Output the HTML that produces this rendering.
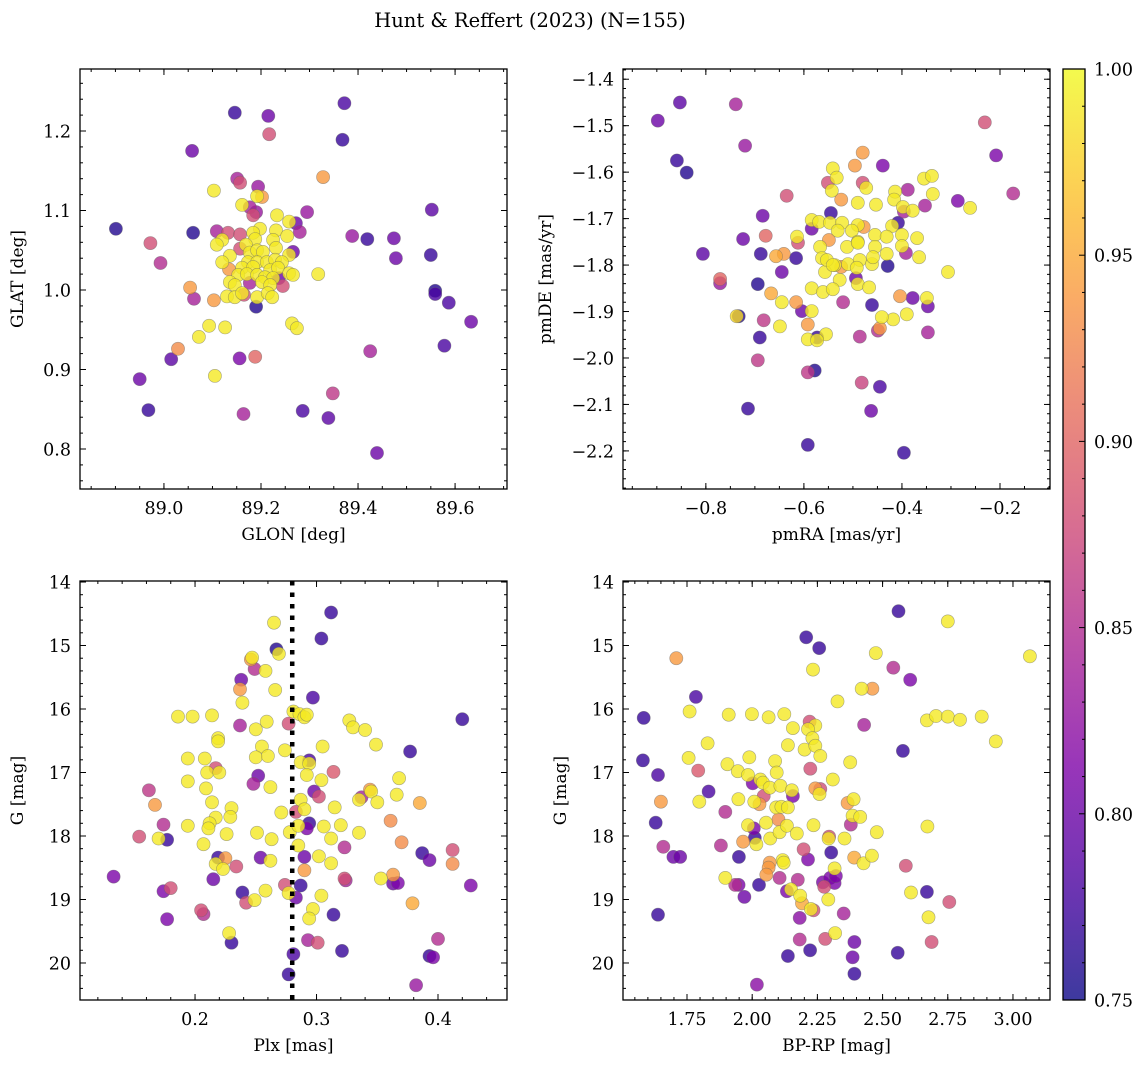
<!DOCTYPE html>
<html><head><meta charset="utf-8"><style>
body{margin:0;background:#fff;}
svg{display:block;font-family:"DejaVu Serif","Liberation Serif",serif;}
</style></head><body>
<svg id="fig" width="1148" height="1068" viewBox="0 0 1148 1068" xmlns="http://www.w3.org/2000/svg">
<rect width="1148" height="1068" fill="#fff"/>
<text x="530" y="27" font-size="19.5" text-anchor="middle">Hunt &amp; Reffert (2023) (N=155)</text>
</svg>
<script>
// ---- Panel 1: GLON / GLAT ----
const p1Lon=[88.901,89.058,89.060,89.146,89.215,89.217,89.372,89.368,89.388,89.419,89.474,89.478,89.552,89.550,89.559,89.559,89.587,89.633,89.578,89.425,89.348,89.286,89.339,89.439,89.164,88.968,88.950,89.015,89.029,89.156,89.188,89.105,88.972,88.993,
89.103,89.151,89.157,89.194,89.328,89.192,89.202,89.161,89.177,89.190,89.184,89.233,89.258,89.272,89.295,89.280,89.109,89.132,89.198,89.231,89.254,89.120,89.109,89.157,89.184,89.188,89.225,89.169,89.157,89.231,89.266,89.258,89.136,89.120,89.177,89.192,89.204,89.173,89.192,89.212,89.229,89.243,89.134,89.161,89.184,89.219,89.235,89.258,89.266,89.318,89.153,89.171,89.192,89.208,89.225,89.237,89.136,89.146,89.177,89.202,89.219,89.245,89.130,89.146,89.161,89.165,89.192,89.214,89.223,89.190,89.103,89.054,89.062,89.093,89.126,89.264,89.274,89.072];
const p1Lat=[1.077,1.175,1.072,1.223,1.219,1.196,1.235,1.189,1.068,1.064,1.065,1.040,1.101,1.044,0.999,0.995,0.984,0.960,0.930,0.923,0.870,0.848,0.839,0.795,0.844,0.849,0.888,0.913,0.926,0.914,0.916,0.892,1.059,1.034,
1.125,1.140,1.135,1.130,1.142,1.118,1.117,1.107,1.104,1.098,1.094,1.094,1.086,1.084,1.098,1.073,1.074,1.072,1.077,1.075,1.068,1.063,1.057,1.070,1.072,1.064,1.063,1.057,1.052,1.053,1.048,1.044,1.043,1.035,1.047,1.050,1.048,1.035,1.035,1.035,1.038,1.035,1.026,1.028,1.029,1.025,1.028,1.021,1.019,1.020,1.019,1.020,1.019,1.016,1.015,1.015,1.010,1.006,1.009,1.010,1.006,1.005,0.992,0.991,0.996,0.994,0.991,0.996,0.991,0.979,0.987,1.003,0.989,0.955,0.953,0.958,0.952,0.941];
const p1Prob=[0.76,0.80,0.76,0.77,0.80,0.88,0.78,0.77,0.83,0.77,0.80,0.80,0.79,0.77,0.76,0.78,0.78,0.80,0.78,0.84,0.86,0.78,0.79,0.80,0.84,0.77,0.80,0.79,0.93,0.81,0.90,0.99,0.88,0.85,
0.99,0.84,0.88,0.83,0.94,0.99,0.94,0.99,0.84,0.83,0.88,0.99,0.99,0.80,0.83,0.84,0.84,0.88,0.99,0.99,0.99,0.99,0.99,0.88,0.99,0.99,0.99,0.99,0.88,0.99,0.80,0.99,0.99,0.99,0.99,0.99,0.99,0.99,0.99,0.99,0.99,0.99,0.94,0.99,0.99,0.99,0.99,0.99,0.99,0.99,0.99,0.99,0.99,0.99,0.99,0.80,0.99,0.99,0.84,0.99,0.99,0.88,0.99,0.99,0.99,0.88,0.99,0.99,0.99,0.76,0.94,0.94,0.84,0.99,0.99,0.99,0.99,0.99];

// ---- Panel 2: pmRA / pmDE ----
const p2Ra=[-0.898,-0.853,-0.859,-0.839,-0.739,-0.720,-0.806,-0.771,-0.771,-0.737,-0.733,-0.684,-0.678,-0.724,-0.688,-0.657,-0.667,-0.694,-0.682,-0.690,-0.649,-0.694,-0.714,-0.592,-0.578,-0.592,-0.482,-0.463,-0.445,-0.396,-0.231,-0.208,-0.173,
-0.480,-0.496,-0.439,-0.541,-0.533,-0.551,-0.480,-0.473,-0.543,-0.635,-0.524,-0.490,-0.453,-0.414,-0.388,-0.355,-0.339,-0.337,-0.416,-0.398,-0.396,-0.378,-0.353,-0.286,-0.261,-0.545,-0.584,-0.584,-0.569,-0.547,-0.522,-0.490,-0.478,-0.531,-0.502,-0.455,-0.420,-0.408,-0.431,-0.400,-0.369,-0.614,-0.612,-0.549,-0.567,-0.512,-0.490,-0.490,-0.455,-0.431,-0.400,-0.392,-0.365,-0.641,-0.616,-0.563,-0.537,-0.557,-0.553,-0.541,-0.510,-0.486,-0.461,-0.459,-0.524,-0.492,-0.429,-0.527,-0.494,-0.490,-0.467,-0.584,-0.561,-0.541,-0.306,-0.520,-0.461,-0.404,-0.378,-0.349,-0.347,-0.616,-0.604,-0.645,-0.584,-0.390,-0.418,-0.441,-0.592,-0.645,-0.445,-0.449,-0.486,-0.347,-0.573,-0.555,-0.592,-0.573];
const p2De=[-1.489,-1.450,-1.575,-1.601,-1.454,-1.543,-1.776,-1.830,-1.839,-1.910,-1.910,-1.694,-1.737,-1.744,-1.776,-1.781,-1.861,-1.841,-1.919,-1.956,-1.932,-2.005,-2.109,-2.031,-2.027,-2.187,-2.053,-2.114,-2.062,-2.204,-1.493,-1.564,-1.646,
-1.558,-1.586,-1.586,-1.592,-1.612,-1.623,-1.623,-1.634,-1.640,-1.651,-1.659,-1.666,-1.670,-1.642,-1.638,-1.614,-1.608,-1.647,-1.659,-1.675,-1.685,-1.683,-1.672,-1.662,-1.677,-1.688,-1.703,-1.722,-1.707,-1.709,-1.709,-1.714,-1.718,-1.726,-1.726,-1.735,-1.716,-1.709,-1.739,-1.735,-1.742,-1.739,-1.752,-1.746,-1.761,-1.761,-1.750,-1.752,-1.761,-1.776,-1.759,-1.774,-1.783,-1.776,-1.785,-1.785,-1.800,-1.815,-1.789,-1.800,-1.798,-1.789,-1.798,-1.783,-1.804,-1.806,-1.802,-1.832,-1.828,-1.841,-1.848,-1.850,-1.858,-1.852,-1.815,-1.880,-1.886,-1.867,-1.871,-1.871,-1.889,-1.880,-1.899,-1.815,-1.899,-1.906,-1.917,-1.912,-1.928,-1.880,-1.936,-1.941,-1.954,-1.945,-1.956,-1.949,-1.960,-1.962];
const p2Prob=[0.80,0.79,0.77,0.76,0.84,0.83,0.79,0.90,0.83,0.98,0.76,0.80,0.90,0.80,0.77,0.95,0.95,0.76,0.86,0.77,0.99,0.86,0.77,0.86,0.76,0.77,0.87,0.80,0.78,0.77,0.88,0.81,0.85,
0.94,0.94,0.81,0.99,0.99,0.88,0.88,0.99,0.99,0.88,0.94,0.99,0.99,0.99,0.84,0.99,0.99,0.99,0.99,0.99,0.84,0.99,0.84,0.81,0.99,0.77,0.99,0.80,0.99,0.99,0.99,0.99,0.94,0.99,0.99,0.99,0.99,0.77,0.99,0.99,0.99,0.99,0.88,0.94,0.99,0.99,0.99,0.99,0.99,0.99,0.99,0.84,0.99,0.94,0.77,0.99,0.99,0.99,0.99,0.99,0.99,0.99,0.99,0.99,0.94,0.99,0.76,0.99,0.80,0.99,0.99,0.99,0.99,0.99,0.99,0.85,0.77,0.94,0.80,0.99,0.80,0.94,0.80,0.80,0.99,0.99,0.99,0.99,0.94,0.99,0.94,0.85,0.85,0.84,0.77,0.99,0.99,0.99];

// ---- Panel 3: Plx / G ----
const p3Plx=[0.312,0.304,0.265,0.267,0.269,0.246,0.247,0.249,0.258,0.238,0.237,0.239,0.266,0.297,0.186,0.198,0.214,0.237,0.250,0.259,0.277,0.281,0.286,0.290,0.292,0.327,0.330,0.340,0.349,0.420,0.377,0.219,0.219,0.255,0.250,0.260,0.274,0.305,0.194,0.208,0.217,0.210,0.220,0.294,0.287,0.294,0.292,0.252,0.248,0.262,0.304,0.314,0.194,0.209,0.162,0.167,0.214,0.298,0.302,0.287,0.290,0.283,0.271,0.230,0.229,0.217,0.212,0.211,0.194,0.174,0.154,0.170,0.177,0.207,0.226,0.251,0.263,0.278,0.285,0.294,0.292,0.306,0.315,0.312,0.320,0.335,0.344,0.345,0.337,0.335,0.350,0.366,0.368,0.385,0.361,0.370,0.323,0.285,0.290,0.302,0.312,0.290,0.254,0.262,0.219,0.225,0.217,0.223,0.234,0.133,0.215,0.323,0.324,0.353,0.363,0.363,0.367,0.387,0.393,0.412,0.412,0.427,0.379,0.174,0.180,0.239,0.242,0.249,0.258,0.274,0.277,0.283,0.287,0.304,0.297,0.294,0.314,0.205,0.207,0.177,0.228,0.230,0.293,0.301,0.281,0.277,0.321,0.400,0.393,0.396,0.382];
const p3G=[14.48,14.89,14.64,15.06,15.13,15.22,15.19,15.37,15.40,15.54,15.69,15.90,15.70,15.82,16.12,16.12,16.10,16.26,16.32,16.20,16.23,16.04,16.08,16.13,16.09,16.18,16.29,16.33,16.56,16.16,16.67,16.46,16.51,16.59,16.76,16.74,16.65,16.59,16.78,16.78,16.93,17.00,17.00,16.81,16.84,16.86,17.04,17.05,17.18,17.23,17.12,16.99,17.14,17.25,17.28,17.51,17.47,17.30,17.38,17.43,17.58,17.62,17.63,17.56,17.70,17.71,17.80,17.88,17.84,17.82,18.01,18.04,18.06,18.13,17.97,17.95,18.05,17.94,17.84,17.80,17.88,17.85,17.55,18.04,17.83,17.95,17.27,17.30,17.39,17.43,17.47,17.35,17.09,17.48,17.76,18.10,18.18,18.15,18.33,18.32,18.43,18.54,18.34,18.39,18.34,18.35,18.44,18.52,18.48,18.64,18.68,18.67,18.70,18.67,18.61,18.75,18.74,18.27,18.38,18.22,18.44,18.78,19.06,18.87,18.82,18.89,19.05,19.01,18.86,18.77,18.90,18.97,18.78,18.94,19.15,19.30,19.24,19.17,19.23,19.31,19.53,19.68,19.64,19.68,19.86,20.18,19.81,19.62,19.89,19.91,20.35];
const p3Prob=[0.77,0.77,0.99,0.76,0.99,0.94,0.99,0.85,0.99,0.80,0.94,0.99,0.99,0.78,0.99,0.99,0.99,0.84,0.99,0.99,0.88,0.99,0.99,0.99,0.99,0.99,0.99,0.99,0.99,0.77,0.77,0.99,0.99,0.99,0.99,0.99,0.99,0.99,0.99,0.99,0.88,0.99,0.99,0.78,0.99,0.99,0.99,0.80,0.84,0.99,0.99,0.89,0.99,0.99,0.86,0.94,0.99,0.80,0.88,0.99,0.99,0.88,0.99,0.99,0.99,0.99,0.99,0.99,0.99,0.85,0.88,0.99,0.77,0.99,0.99,0.99,0.99,0.99,0.99,0.77,0.81,0.99,0.99,0.99,0.99,0.99,0.94,0.99,0.84,0.99,0.99,0.99,0.99,0.95,0.93,0.93,0.85,0.99,0.80,0.99,0.99,0.94,0.80,0.99,0.77,0.94,0.99,0.99,0.88,0.81,0.80,0.88,0.84,0.99,0.94,0.80,0.81,0.77,0.80,0.88,0.93,0.81,0.95,0.81,0.88,0.77,0.88,0.99,0.99,0.88,0.99,0.80,0.77,0.99,0.99,0.99,0.77,0.88,0.85,0.81,0.99,0.77,0.84,0.88,0.78,0.77,0.77,0.85,0.77,0.81,0.83];

// ---- Panel 4: BP-RP / G ----
const p4Col=[2.561,2.750,2.207,2.257,1.709,2.474,3.065,2.541,2.606,2.233,2.420,2.461,2.327,1.784,1.584,1.760,1.910,1.999,2.063,2.123,2.156,2.220,2.242,2.214,2.231,2.429,2.670,2.705,2.750,2.797,2.880,2.934,2.578,1.829,1.581,1.756,1.639,1.793,1.650,1.797,1.630,1.659,1.698,1.724,1.833,1.897,1.905,1.945,1.989,1.984,2.002,2.031,2.041,2.067,2.108,2.088,2.094,2.137,2.201,2.242,2.261,2.223,2.309,2.376,1.947,2.008,2.044,2.028,2.152,2.156,2.092,2.112,2.137,2.101,2.242,2.261,2.258,2.366,2.389,2.385,2.414,2.378,2.478,2.672,1.984,2.006,2.010,2.016,1.965,2.053,2.069,2.105,2.133,2.171,2.235,2.295,2.293,2.354,1.880,1.949,1.897,1.935,1.948,1.970,2.026,2.067,2.063,2.054,2.117,2.121,2.105,2.133,2.149,2.175,2.197,2.214,2.184,2.191,2.225,2.235,2.182,2.271,2.276,2.299,2.316,2.321,2.316,2.292,2.303,2.391,2.427,2.459,2.351,2.318,2.182,2.280,2.392,2.222,2.137,2.385,2.392,2.018,2.558,1.639,2.589,2.609,2.670,2.676,2.756,2.688];
const p4G=[14.46,14.62,14.87,15.04,15.20,15.12,15.17,15.35,15.54,15.38,15.68,15.68,15.88,15.81,16.14,16.04,16.09,16.08,16.13,16.08,16.30,16.20,16.26,16.32,16.46,16.25,16.18,16.11,16.12,16.17,16.12,16.51,16.66,16.54,16.81,16.77,17.04,16.97,17.46,17.46,17.79,18.17,18.33,18.33,17.30,17.62,16.87,16.98,16.76,17.04,17.17,17.11,17.16,17.24,17.21,16.82,17.00,16.57,16.64,16.58,16.74,16.94,17.11,16.84,17.42,17.46,17.37,17.50,17.28,17.37,17.55,17.54,17.55,17.74,17.25,17.26,17.34,17.48,17.42,17.68,17.70,17.82,17.94,17.85,17.83,17.88,18.03,18.13,18.09,17.79,18.04,17.94,17.84,17.96,17.83,18.01,18.04,18.04,18.15,18.33,18.66,18.77,18.77,18.96,18.77,18.42,18.50,18.61,18.38,18.42,18.66,18.87,18.84,18.69,18.21,18.37,18.94,19.06,19.15,19.17,19.29,18.73,18.80,18.66,18.74,18.63,18.51,19.00,18.26,18.34,18.43,18.31,19.22,19.53,19.63,19.62,19.67,19.80,19.89,19.91,20.17,20.34,19.84,19.24,18.47,18.89,18.88,19.28,19.04,19.67];
const p4Prob=[0.77,0.99,0.77,0.77,0.94,0.99,0.99,0.85,0.81,0.99,0.99,0.94,0.99,0.78,0.77,0.99,0.99,0.99,0.99,0.99,0.99,0.88,0.99,0.99,0.99,0.84,0.99,0.99,0.99,0.99,0.99,0.99,0.77,0.99,0.77,0.99,0.78,0.89,0.94,0.99,0.77,0.85,0.80,0.80,0.78,0.85,0.99,0.99,0.99,0.99,0.81,0.99,0.99,0.99,0.99,0.99,0.99,0.99,0.99,0.99,0.99,0.88,0.99,0.99,0.99,0.99,0.88,0.94,0.99,0.81,0.99,0.99,0.99,0.93,0.94,0.88,0.99,0.94,0.99,0.99,0.99,0.85,0.99,0.99,0.99,0.81,0.77,0.99,0.94,0.99,0.99,0.99,0.99,0.99,0.99,0.88,0.99,0.99,0.85,0.77,0.99,0.85,0.81,0.80,0.77,0.94,0.94,0.94,0.99,0.99,0.85,0.81,0.99,0.85,0.88,0.81,0.99,0.95,0.99,0.88,0.82,0.81,0.88,0.81,0.81,0.81,0.99,0.99,0.77,0.95,0.99,0.99,0.84,0.99,0.85,0.88,0.80,0.77,0.77,0.80,0.77,0.82,0.77,0.77,0.88,0.99,0.77,0.99,0.88,0.88];

const plxCut=[0.28];
const cbTicks=[0.75,0.80,0.85,0.90,0.95,1.00];

const NS='http://www.w3.org/2000/svg';
const svg=document.getElementById('fig');
function el(tag,attrs,parent){const e=document.createElementNS(NS,tag);for(const k in attrs)e.setAttribute(k,attrs[k]);(parent||svg).appendChild(e);return e;}

const stops=[[0,[13,8,135]],[0.125,[76,2,161]],[0.25,[126,3,168]],[0.375,[169,35,149]],[0.5,[204,71,120]],[0.625,[229,107,93]],[0.75,[248,149,64]],[0.875,[253,197,39]],[1,[240,249,33]]];
function plasma(t){t=Math.max(0,Math.min(1,t));for(let i=1;i<stops.length;i++){if(t<=stops[i][0]){const a=stops[i-1],b=stops[i];const f=(t-a[0])/(b[0]-a[0]);const c=a[1].map((v,j)=>Math.round(v+(b[1][j]-v)*f));return 'rgb('+c.join(',')+')';}}return 'rgb(240,249,33)';}
const cmin=0.75,cmax=1.0;

function fmt(v,d){let s=v.toFixed(d);if(v<0)s='\u2212'+s.slice(1);return s;}

function panel(cfg){
  const g=el('g',{});
  
  
  const sx=v=>cfg.l+(v-cfg.xlim[0])/(cfg.xlim[1]-cfg.xlim[0])*(cfg.r-cfg.l);
  const sy=v=>cfg.b-(v-cfg.ylim[0])/(cfg.ylim[1]-cfg.ylim[0])*(cfg.b-cfg.t);
  const idx=cfg.xs.map((_,i)=>i).sort((a,b)=>cfg.ps[a]-cfg.ps[b]);
  const pg=el('g',{},g);
  
  
  idx.forEach(i=>{
    const c=el('circle',{cx:sx(cfg.xs[i]).toFixed(1),cy:sy(cfg.ys[i]).toFixed(1),r:6.6,fill:plasma((cfg.ps[i]-cmin)/(cmax-cmin)),'fill-opacity':0.8,stroke:'#666','stroke-opacity':0.55,'stroke-width':0.6},pg);
    
    
  });
  if(cfg.vline){cfg.vline.forEach(v=>{const ln=el('line',{x1:sx(v),x2:sx(v),y1:cfg.t,y2:cfg.b,stroke:'#000','stroke-width':4.5,'stroke-dasharray':'4.5,7'},g);
    
    });}
  const fr=el('rect',{x:cfg.l,y:cfg.t,width:cfg.r-cfg.l,height:cfg.b-cfg.t,fill:'none',stroke:'#000','stroke-width':1.3},g);
  
  
  const tk=el('g',{stroke:'#000','stroke-width':1},g);
  
  
  const eps=1e-9;
  function ticks(lim,step){const out=[];const lo=Math.min(lim[0],lim[1]),hi=Math.max(lim[0],lim[1]);let s=Math.ceil(lo/step-eps);for(let k=s;k*step<=hi+eps;k++)out.push(k*step);return out;}
  ticks(cfg.xlim,cfg.xminor).forEach(v=>{const x=sx(v);el('line',{x1:x,x2:x,y1:cfg.b,y2:cfg.b-3},tk);el('line',{x1:x,x2:x,y1:cfg.t,y2:cfg.t+3},tk);});
  ticks(cfg.ylim,cfg.yminor).forEach(v=>{const y=sy(v);el('line',{x1:cfg.l,x2:cfg.l+3,y1:y,y2:y},tk);el('line',{x1:cfg.r,x2:cfg.r-3,y1:y,y2:y},tk);});
  ticks(cfg.xlim,cfg.xmajor).forEach(v=>{const x=sx(v);el('line',{x1:x,x2:x,y1:cfg.b,y2:cfg.b-6},tk);el('line',{x1:x,x2:x,y1:cfg.t,y2:cfg.t+6},tk);
    const t=el('text',{x:x,y:cfg.b+25,'font-size':17.5,'text-anchor':'middle',stroke:'none',fill:'#000'},g);t.textContent=fmt(v,cfg.xdec);
    
    });
  ticks(cfg.ylim,cfg.ymajor).forEach(v=>{const y=sy(v);el('line',{x1:cfg.l,x2:cfg.l+6,y1:y,y2:y},tk);el('line',{x1:cfg.r,x2:cfg.r-6,y1:y,y2:y},tk);
    const t=el('text',{x:cfg.l-9,y:y+6.5,'font-size':17.5,'text-anchor':'end',stroke:'none',fill:'#000'},g);t.textContent=fmt(v,cfg.ydec);
    
    });
  const xl=el('text',{x:(cfg.l+cfg.r)/2,y:cfg.b+51,'font-size':17,'text-anchor':'middle'},g);xl.textContent=cfg.xlabel;
  
  
  const yx=cfg.ylx, yy=(cfg.t+cfg.b)/2;
  const yl=el('text',{x:yx,y:yy,'font-size':17,'text-anchor':'middle',transform:'rotate(-90 '+yx+' '+yy+')'},g);yl.textContent=cfg.ylabel;
  
  
}

panel({name:'panel-glon-glat',l:80,r:507,t:69,b:489,xlim:[88.827,89.707],ylim:[0.7497,1.278],xs:p1Lon,ys:p1Lat,ps:p1Prob,xmajor:0.2,xminor:0.05,ymajor:0.1,yminor:0.02,xdec:1,ydec:1,xlabel:'GLON [deg]',ylabel:'GLAT [deg]',ylx:23});
panel({name:'panel-pmra-pmde',l:623,r:1050,t:69,b:489,xlim:[-0.969,-0.098],ylim:[-2.282,-1.378],xs:p2Ra,ys:p2De,ps:p2Prob,xmajor:0.2,xminor:0.05,ymajor:0.1,yminor:0.02,xdec:1,ydec:1,xlabel:'pmRA [mas/yr]',ylabel:'pmDE [mas/yr]',ylx:551});
panel({name:'panel-plx-g',l:80,r:507,t:581,b:1000,xlim:[0.1053,0.4568],ylim:[20.583,13.984],xs:p3Plx,ys:p3G,ps:p3Prob,xmajor:0.1,xminor:0.02,ymajor:1,yminor:0.2,xdec:1,ydec:0,xlabel:'Plx [mas]',ylabel:'G [mag]',ylx:23,vline:plxCut});
panel({name:'panel-bprp-g',l:623,r:1050,t:581,b:1000,xlim:[1.5046,3.142],ylim:[20.583,13.984],xs:p4Col,ys:p4G,ps:p4Prob,xmajor:0.25,xminor:0.05,ymajor:1,yminor:0.2,xdec:2,ydec:0,xlabel:'BP-RP [mag]',ylabel:'G [mag]',ylx:566});

// colorbar
(function(){
  const l=1063,r=1085,t=69,b=1000;
  const g=el('g',{});
  
  
  const defs=el('defs',{},g);
  const lg=el('linearGradient',{id:'cbgrad',x1:0,y1:1,x2:0,y2:0},defs);
  for(let i=0;i<=20;i++){el('stop',{offset:(i/20),'stop-color':plasma(i/20),'stop-opacity':0.8},lg);}
  el('rect',{x:l,y:t,width:r-l,height:b-t,fill:'url(#cbgrad)'},g);
  el('rect',{x:l,y:t,width:r-l,height:b-t,fill:'none',stroke:'#000','stroke-width':1.3},g);
  const sy=v=>b-(v-cmin)/(cmax-cmin)*(b-t);
  for(let k=75;k<=100;k++){const y=sy(k/100);const maj=(k%5===0);el('line',{x1:r,x2:r-(maj?6:3),y1:y,y2:y,stroke:'#000','stroke-width':1},g);}
  cbTicks.forEach(v=>{const t2=el('text',{x:r+9,y:sy(v)+6.5,'font-size':17.5},g);t2.textContent=v.toFixed(2);
    
    });
})();
</script>
</body></html>
